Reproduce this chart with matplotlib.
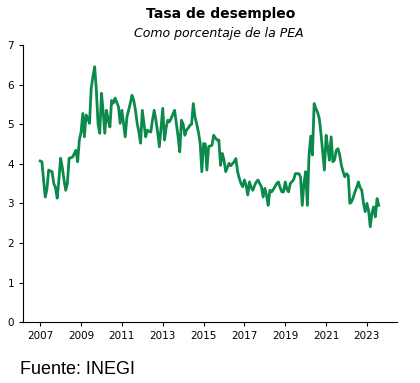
import matplotlib
matplotlib.use('Agg')
import matplotlib.pyplot as plt
import matplotlib.dates as mdates
import pandas as pd

# tasa de desocupacion mensual (% de la PEA)
y2007 = [4.07, 4.05, 3.6, 3.16, 3.35, 3.84, 3.82, 3.8, 3.5, 3.4, 3.13, 3.6]
y2008 = [4.14, 3.9, 3.6, 3.33, 3.5, 4.14, 4.15, 4.17, 4.25, 4.34, 4.05, 4.6]
y2009 = [4.8, 5.27, 4.68, 5.23, 5.15, 5.02, 5.9, 6.2, 6.45, 5.86, 5.0, 4.77]
y2010 = [5.78, 5.3, 4.77, 5.35, 5.1, 4.93, 5.6, 5.53, 5.66, 5.55, 5.44, 5.02]
y2011 = [5.35, 5.0, 4.68, 5.18, 5.35, 5.53, 5.73, 5.6, 5.35, 5.02, 4.8, 4.52]
y2012 = [5.35, 5.0, 4.68, 4.85, 4.82, 4.8, 5.1, 5.35, 5.1, 4.8, 4.43, 4.9]
y2013 = [5.4, 4.6, 4.9, 5.1, 5.06, 5.15, 5.25, 5.35, 5.02, 4.7, 4.3, 5.1]
y2014 = [5.0, 4.72, 4.85, 4.9, 4.97, 5.0, 5.52, 5.18, 5.0, 4.8, 4.52, 3.8]
y2015 = [4.51, 4.5, 3.84, 4.43, 4.45, 4.47, 4.72, 4.65, 4.6, 4.6, 3.96, 4.26]
y2016 = [4.1, 3.8, 3.9, 4.01, 3.95, 4.0, 4.05, 4.13, 3.8, 3.63, 3.5, 3.42]
y2017 = [3.59, 3.45, 3.21, 3.54, 3.4, 3.33, 3.45, 3.54, 3.59, 3.5, 3.42, 3.16]
y2018 = [3.38, 3.2, 2.95, 3.33, 3.29, 3.35, 3.42, 3.5, 3.54, 3.4, 3.29, 3.29]
y2019 = [3.54, 3.35, 3.29, 3.5, 3.55, 3.6, 3.75, 3.75, 3.75, 3.67, 2.95, 3.5]
y2020 = [3.8, 2.95, 4.2, 4.7, 4.22, 5.52, 5.4, 5.3, 5.14, 4.76, 4.3, 3.84]
y2021 = [4.72, 4.4, 4.09, 4.68, 4.05, 4.1, 4.34, 4.38, 4.22, 3.96, 3.8, 3.67]
y2022 = [3.75, 3.7, 3.0, 3.04, 3.15, 3.29, 3.4, 3.54, 3.4, 3.33, 3.0, 2.79]
y2023 = [3.0, 2.8, 2.41, 2.75, 2.91, 2.66, 3.12, 2.95]

tasa = (y2007 + y2008 + y2009 + y2010 + y2011 + y2012 + y2013 + y2014 + y2015
        + y2016 + y2017 + y2018 + y2019 + y2020 + y2021 + y2022 + y2023)
fechas = pd.date_range('2007-01-01', periods=len(tasa), freq='MS')
anios_ticks = ['2007', '2009', '2011', '2013', '2015', '2017', '2019', '2021', '2023']

fig = plt.figure(figsize=(4.2, 3.83), dpi=100)
ax = fig.add_axes([0.055, 0.159, 0.89, 0.7235])
ax.plot(fechas, tasa, color='#0b8a4c', linewidth=2.0)

ax.set_ylim(0, 7)
ax.set_xlim(pd.Timestamp('2006-03-01'), pd.Timestamp('2024-06-20'))
ax.set_xticks([pd.Timestamp(a + '-01-01') for a in anios_ticks])
ax.xaxis.set_major_formatter(mdates.DateFormatter('%Y'))
ax.tick_params(labelsize=7.5, length=3)
for s in ['top', 'right']:
    ax.spines[s].set_visible(False)

fig.text(0.525, 0.963, 'Tasa de desempleo', ha='center', va='center',
         fontsize=10, fontweight='bold')
fig.text(0.522, 0.913, 'Como porcentaje de la PEA', ha='center', va='center',
         fontsize=9, style='italic')
fig.text(0.048, 0.035, 'Fuente: INEGI', ha='left', va='center',
         fontsize=13, family='Liberation Sans')

fig.savefig('out.png', dpi=100)
